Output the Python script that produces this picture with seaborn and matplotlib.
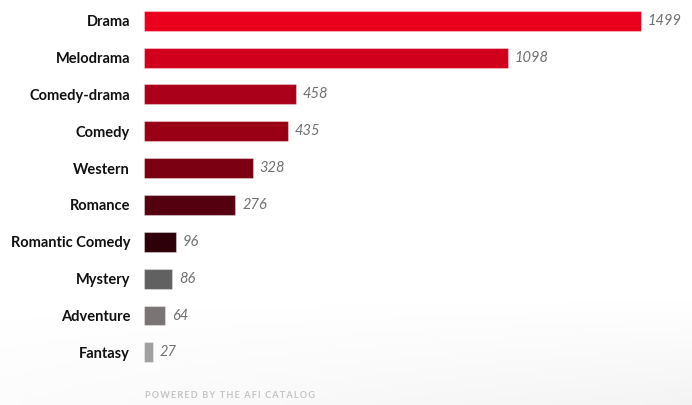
import numpy as np
import pandas as pd
import matplotlib
matplotlib.use("Agg")
import matplotlib.pyplot as plt
import seaborn as sns

genres = ["Drama", "Melodrama", "Comedy-drama", "Comedy", "Western",
          "Romance", "Romantic Comedy", "Mystery", "Adventure", "Fantasy"]
counts = [1499, 1098, 458, 435, 328, 276, 96, 86, 64, 27]
colors = ["#EA001D", "#D0001C", "#AB0019", "#9A0015", "#7A0012",
          "#55000E", "#2E0008", "#616161", "#7A7475", "#A0A0A0"]
footer = "POWERED BY THE AFI CATALOG"

df = pd.DataFrame({"genre": genres, "count": counts})

sns.set_theme(style="white")
plt.rcParams['font.family'] = ['Lato', 'DejaVu Sans']

W, H = 692, 405
fig = plt.figure(figsize=(W / 100, H / 100), dpi=100)
fig.patch.set_facecolor("white")

# faint background shading at bottom
bg = fig.add_axes([0, 0, 1, 1], zorder=-1)
yy = np.linspace(0, 1, 100)[:, None]
xx = np.linspace(0, 1, 100)[None, :]
shade = np.clip((yy - 0.72) / 0.28, 0, 1) * (0.015 + 0.03 * xx)
grad = 1 - shade
bg.imshow(grad, cmap="gray", vmin=0, vmax=1, aspect="auto",
          extent=[0, 1, 0, 1], origin="upper")
bg.set_axis_off()

left = 144 / W
top_px, bot_px = 2.3, 370.8
ax = fig.add_axes([left, 1 - bot_px / H, 1 - left, (bot_px - top_px) / H])
ax.patch.set_alpha(0)

sns.barplot(data=df, y="genre", x="count", hue="genre", palette=colors,
            saturation=1, legend=False, orient="h", width=0.54, ax=ax,
            edgecolor=(1, 1, 1, 0.35), linewidth=0.8)

ax.set_xlim(0, (W - 144) / 0.3313)
ax.set_ylim(9.5, -0.5)
ax.set_xlabel("")
ax.set_ylabel("")
ax.set_xticks([])
for s in ax.spines.values():
    s.set_visible(False)
ax.tick_params(axis="y", length=0, pad=10)
for lbl in ax.get_yticklabels():
    lbl.set_fontweight("bold")
    lbl.set_fontsize(10.5)
    lbl.set_color("#111111")

for i, v in enumerate(counts):
    ax.annotate(str(v), xy=(v, i), xytext=(5, 0), textcoords="offset points",
                va="center", ha="left", fontsize=10.5, style="italic",
                color="#707070")

fig.text(145 / W, 1 - 396 / H, "\u2009".join(footer), fontsize=6.6,
         fontweight="bold", color="#C4C4C4", va="center", ha="left",
         family=['Lato', 'DejaVu Sans'])

fig.savefig("out.png", dpi=100)
